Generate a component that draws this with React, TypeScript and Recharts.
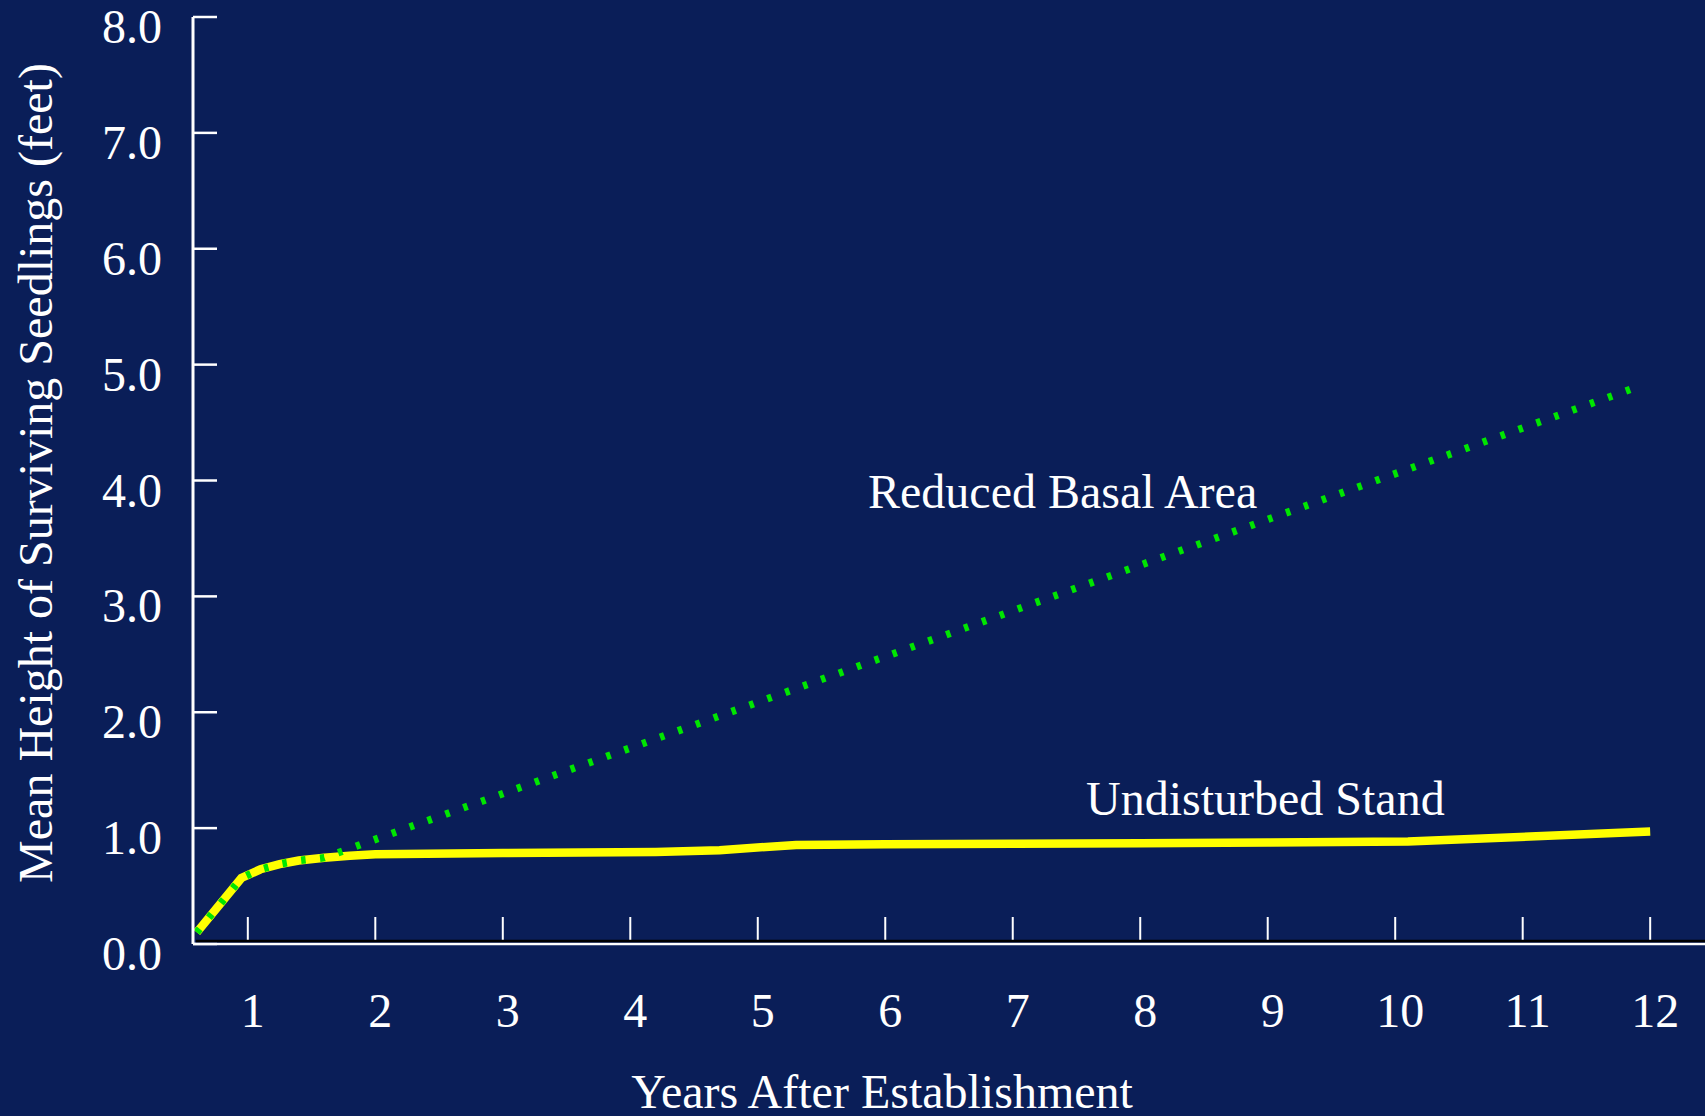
// @ts-nocheck
import { LineChart, Line, XAxis, YAxis } from "recharts";

// Years after establishment / mean height (feet)
const undisturbedYears = [0.6, 0.95, 1.1, 1.25, 1.4, 1.6, 1.8, 2, 3, 4.2, 4.7, 5.3, 6, 7, 8, 9, 10.1, 12];
const undisturbedHeights = [0.1, 0.57, 0.645, 0.69, 0.72, 0.745, 0.762, 0.775, 0.785, 0.795, 0.81, 0.855, 0.86, 0.865, 0.87, 0.875, 0.885, 0.97];
const reducedYears = [0.6, 0.95, 1.1, 1.25, 1.4, 1.6, 11.88];
const reducedHeights = [0.1, 0.57, 0.645, 0.69, 0.72, 0.745, 4.8];

const yearTicks = [1, 2, 3, 4, 5, 6, 7, 8, 9, 10, 11, 12];
const heightTicks = [0, 1, 2, 3, 4, 5, 6, 7, 8];

const undisturbed = undisturbedYears.map((year, i) => ({ year, height: undisturbedHeights[i] }));
const reduced = reducedYears.map((year, i) => ({ year, height: reducedHeights[i] }));

const BG = "#0a1e58";
const FONT = "'Liberation Serif', 'Times New Roman', serif";

const XTick = ({ x, y, payload }) => (
  <g>
    <line x1={x} x2={x} y1={y - 2} y2={y - 27} stroke="#fff" strokeWidth={2} />
    <text x={x + 5} y={y + 83} textAnchor="middle" fill="#fff" fontSize={48} fontFamily={FONT}>
      {payload.value}
    </text>
  </g>
);

const YTick = ({ x, y, payload }) => (
  <g>
    <line x1={x} x2={x + 24} y1={y} y2={y} stroke="#fff" strokeWidth={2.5} />
    <text x={x - 31} y={y + 26} textAnchor="end" fill="#fff" fontSize={48} fontFamily={FONT}>
      {payload.value.toFixed(1)}
    </text>
  </g>
);

export default function App() {
  return (
    <div style={{ position: "absolute", left: 0, top: 0, width: 1705, height: 1116, background: BG, overflow: "hidden" }}>
      <LineChart width={1705} height={1116} margin={{ top: 17, right: 0, bottom: 0, left: 0 }}>
        <XAxis
          dataKey="year"
          type="number"
          domain={[0.57, 12.43]}
          ticks={yearTicks}
          interval={0}
          height={172}
          tickSize={0}
          tickMargin={0}
          tick={XTick}
          axisLine={{ stroke: "#fff", strokeWidth: 2.5 }}
          allowDataOverflow
        />
        <XAxis
          xAxisId="top"
          orientation="top"
          type="number"
          domain={[0.57, 12.43]}
          height={0}
          tick={false}
          tickLine={false}
          axisLine={{ stroke: "#fff", strokeWidth: 2.5 }}
        />
        <YAxis
          type="number"
          domain={[0, 8]}
          ticks={heightTicks}
          interval={0}
          width={193}
          tickSize={0}
          tickMargin={0}
          tick={YTick}
          axisLine={{ stroke: "#fff", strokeWidth: 3 }}
        />
        <Line
          data={undisturbed}
          dataKey="height"
          type="linear"
          stroke="#ffff00"
          strokeWidth={8.5}
          dot={false}
          isAnimationActive={false}
        />
        <Line
          data={reduced}
          dataKey="height"
          type="linear"
          stroke="#00e600"
          strokeWidth={7.5}
          strokeDasharray="4.5 14.5"
          dot={false}
          isAnimationActive={false}
        />
      </LineChart>
      <svg width={1705} height={1116} style={{ position: "absolute", left: 0, top: 0, pointerEvents: "none" }}>
        <line x1={196} x2={1705} y1={941} y2={941} stroke="#000" strokeWidth={2.5} />
        <g fill="#fff" fontSize={48} fontFamily={FONT}>
          <text x={52} y={473} textAnchor="middle" transform="rotate(-90 52 473)">
            Mean Height of Surviving Seedlings (feet)
          </text>
          <text x={882} y={1108} textAnchor="middle">Years After Establishment</text>
          <text x={868} y={508}>Reduced Basal Area</text>
          <text x={1086} y={815}>Undisturbed Stand</text>
        </g>
      </svg>
    </div>
  );
}
